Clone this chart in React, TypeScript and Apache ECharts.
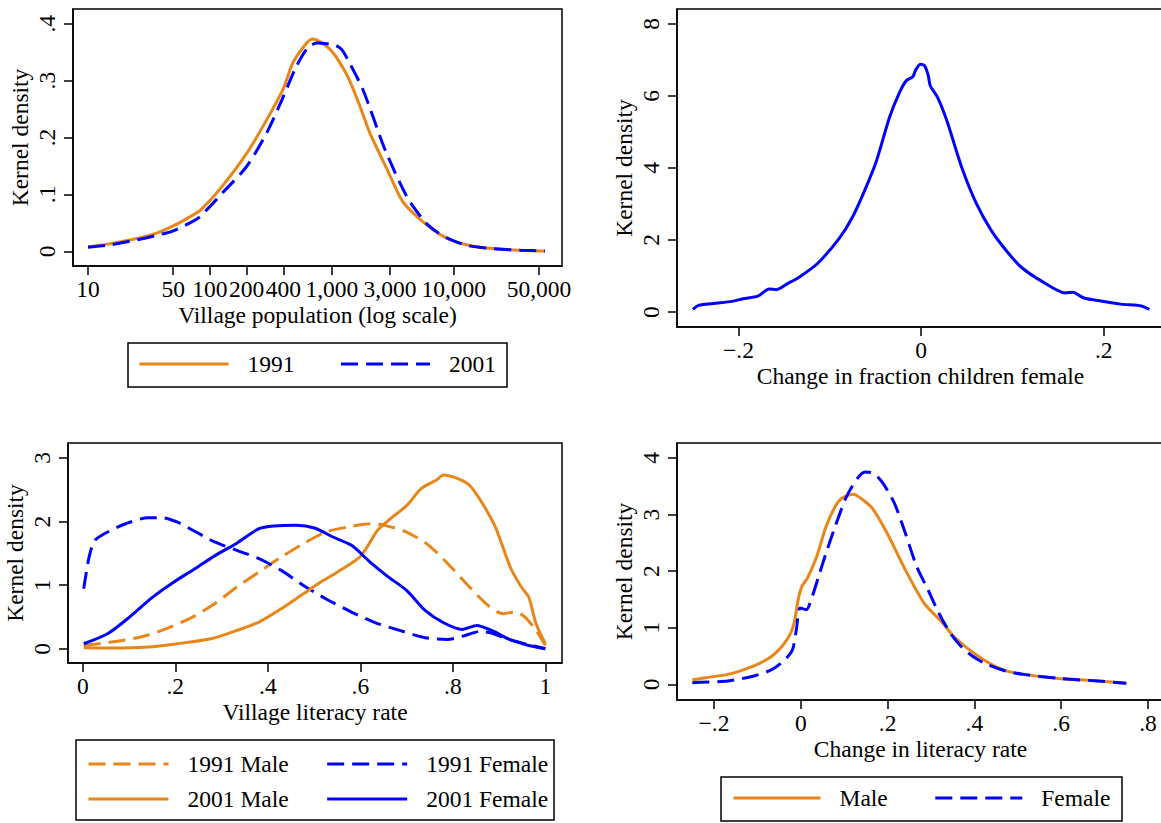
import React, { useEffect, useRef } from 'react';
import * as echarts from 'echarts';

const ORANGE = '#E8861A';
const BLUE = '#0000FF';
const FONT = '"Liberation Serif", "Times New Roman", Times, serif';
const DASH = [17, 8];

// ---------- Panel 1: village population (log scale) ----------
const popTicks = [10, 50, 100, 200, 400, 1000, 3000, 10000, 50000];
const popDensTicks = [0, 0.1, 0.2, 0.3, 0.4];
const pop1991: [number, number][] = [
  [10, 0.008], [15, 0.013], [23.5, 0.021], [36.6, 0.032], [50, 0.0445], [73, 0.064], [86, 0.0745],
  [126, 0.114], [200, 0.172], [292, 0.231], [400, 0.286], [476, 0.33], [589, 0.36], [690, 0.373],
  [832, 0.366], [1024, 0.349], [1350, 0.307], [1660, 0.261], [2050, 0.208], [2940, 0.137],
  [3630, 0.095], [4110, 0.0785], [5300, 0.056], [6800, 0.0375], [8770, 0.023], [11300, 0.014],
  [16400, 0.007], [30900, 0.0023], [56100, 0.0005],
];
const pop2001: [number, number][] = [
  [10, 0.007], [15, 0.011], [23.5, 0.0187], [36.6, 0.028], [50, 0.036], [73, 0.053], [83, 0.061],
  [106, 0.0845], [126, 0.102], [200, 0.149], [292, 0.208], [400, 0.272], [512, 0.325], [631, 0.357],
  [751, 0.366], [900, 0.365], [1028, 0.364], [1200, 0.355], [1350, 0.337], [1800, 0.284],
  [2740, 0.178], [4150, 0.095], [5900, 0.05], [7500, 0.032], [9550, 0.02], [13000, 0.01],
  [20000, 0.005], [35000, 0.002], [56000, 0.0005],
];

// ---------- Panel 2: change in fraction children female ----------
const childChangeTicks = [-0.2, 0, 0.2];
const childDensTicks = [0, 2, 4, 6, 8];
const childChange: [number, number][] = [
  [-0.25, 0.075], [-0.2437, 0.186], [-0.2274, 0.24], [-0.207, 0.296], [-0.195, 0.37], [-0.1788, 0.44],
  [-0.1666, 0.64], [-0.1585, 0.62], [-0.1463, 0.79], [-0.1341, 0.96], [-0.1138, 1.34], [-0.0895, 2.05],
  [-0.0753, 2.63], [-0.0611, 3.42], [-0.0489, 4.2], [-0.0347, 5.4], [-0.0245, 6.05], [-0.0164, 6.42],
  [-0.0091, 6.53], [-0.0063, 6.7], [-0.001, 6.88], [0.0039, 6.83], [0.0079, 6.55], [0.01, 6.28],
  [0.018, 5.96], [0.0282, 5.31], [0.0444, 4.02], [0.0607, 3.0], [0.0769, 2.26], [0.0931, 1.71],
  [0.1094, 1.25], [0.1337, 0.83], [0.158, 0.53], [0.1661, 0.55], [0.1783, 0.39], [0.1986, 0.3],
  [0.2189, 0.22], [0.2412, 0.17], [0.25, 0.07],
];

// ---------- Panel 3: village literacy rate ----------
const litTicks = [0, 0.2, 0.4, 0.6, 0.8, 1];
const litDensTicks = [0, 1, 2, 3];
const lit1991Male: [number, number][] = [
  [0.002, 0.052], [0.0615, 0.105], [0.125, 0.184], [0.181, 0.315], [0.237, 0.498], [0.285, 0.708],
  [0.333, 0.97], [0.381, 1.206], [0.429, 1.442], [0.477, 1.652], [0.525, 1.835], [0.573, 1.914],
  [0.621, 1.966], [0.653, 1.94], [0.7, 1.835], [0.748, 1.626], [0.796, 1.285], [0.836, 0.97],
  [0.876, 0.682], [0.908, 0.551], [0.936, 0.577], [0.956, 0.498], [0.98, 0.288], [1.0, 0.052],
];
const lit1991Female: [number, number][] = [
  [0.002, 0.944], [0.0136, 1.44], [0.0256, 1.7], [0.0535, 1.835], [0.093, 1.966], [0.141, 2.06],
  [0.173, 2.06], [0.205, 1.99], [0.245, 1.835], [0.285, 1.68], [0.333, 1.547], [0.381, 1.416],
  [0.429, 1.232], [0.477, 0.996], [0.525, 0.787], [0.581, 0.577], [0.629, 0.42], [0.685, 0.288],
  [0.74, 0.173], [0.788, 0.147], [0.82, 0.194], [0.86, 0.273], [0.884, 0.246], [0.916, 0.157],
  [0.956, 0.079], [1.0, 0.0],
];
const lit2001Male: [number, number][] = [
  [0.002, 0.016], [0.0615, 0.01], [0.141, 0.026], [0.205, 0.079], [0.277, 0.157], [0.333, 0.288],
  [0.381, 0.42], [0.429, 0.629], [0.477, 0.865], [0.517, 1.06], [0.549, 1.2], [0.6, 1.45],
  [0.637, 1.86], [0.661, 2.02], [0.7, 2.25], [0.732, 2.52], [0.764, 2.65], [0.78, 2.73],
  [0.812, 2.67], [0.836, 2.57], [0.86, 2.33], [0.892, 1.914], [0.924, 1.285], [0.948, 0.97],
  [0.964, 0.813], [0.98, 0.393], [1.0, 0.079],
];
const lit2001Female: [number, number][] = [
  [0.002, 0.079], [0.0535, 0.236], [0.101, 0.498], [0.149, 0.8], [0.197, 1.05], [0.245, 1.27],
  [0.285, 1.46], [0.333, 1.66], [0.381, 1.888], [0.413, 1.93], [0.461, 1.94], [0.501, 1.898],
  [0.541, 1.757], [0.581, 1.626], [0.621, 1.363], [0.661, 1.127], [0.7, 0.918], [0.74, 0.603],
  [0.78, 0.409], [0.82, 0.304], [0.852, 0.367], [0.884, 0.288], [0.924, 0.142], [0.964, 0.052],
  [1.0, 0.0],
];

// ---------- Panel 4: change in literacy rate ----------
const litChgTicks = [-0.2, 0, 0.2, 0.4, 0.6, 0.8];
const litChgDensTicks = [0, 1, 2, 3, 4];
const litChgMale: [number, number][] = [
  [-0.25, 0.076], [-0.219, 0.117], [-0.168, 0.176], [-0.134, 0.252], [-0.1, 0.352], [-0.066, 0.5],
  [-0.04, 0.704], [-0.023, 0.909], [-0.0145, 1.114], [-0.006, 1.496], [0.0026, 1.73], [0.0154, 1.877],
  [0.0367, 2.258], [0.058, 2.786], [0.079, 3.138], [0.096, 3.296], [0.122, 3.361], [0.139, 3.284],
  [0.165, 3.109], [0.199, 2.669], [0.241, 2.023], [0.284, 1.437], [0.327, 1.085], [0.352, 0.85],
  [0.403, 0.528], [0.463, 0.264], [0.514, 0.176], [0.6, 0.1], [0.685, 0.059], [0.75, 0.018],
];
const litChgFemale: [number, number][] = [
  [-0.25, 0.03], [-0.168, 0.059], [-0.108, 0.147], [-0.066, 0.264], [-0.036, 0.44], [-0.019, 0.616],
  [-0.0102, 0.968], [-0.0017, 1.349], [0.0128, 1.32], [0.0239, 1.496], [0.041, 1.906], [0.058, 2.317],
  [0.079, 2.786], [0.105, 3.314], [0.13, 3.636], [0.148, 3.754], [0.169, 3.724], [0.19, 3.548],
  [0.216, 3.196], [0.241, 2.669], [0.267, 2.082], [0.293, 1.672], [0.318, 1.261], [0.344, 0.909],
  [0.369, 0.674], [0.395, 0.499], [0.429, 0.352], [0.472, 0.235], [0.514, 0.176], [0.6, 0.1],
  [0.685, 0.059], [0.75, 0.018],
];

function stata(v: number): string {
  if (Math.abs(v) < 1e-9) return '0';
  let s = String(Math.round(v * 1000) / 1000);
  s = s.replace(/^(-?)0\./, '$1.');
  return s.replace('-', '\u2212');
}
function commas(v: number): string {
  return Math.round(v).toLocaleString('en-US');
}

const textBase = { fontFamily: FONT, fontSize: 23.5, color: '#000' };

function makeX(gridIndex: number, type: string, min: number, max: number, ticks: number[], name: string, formatter: any) {
  const ax: any = {
    type, gridIndex, min, max, name,
    nameLocation: 'middle', nameGap: 37,
    nameTextStyle: { ...textBase },
    axisLine: { show: true, onZero: false, lineStyle: { color: '#000', width: 1.5 } },
    axisTick: { show: true, customValues: ticks, length: 9, lineStyle: { color: '#000', width: 1.5 } },
    axisLabel: { customValues: ticks, formatter, margin: 11, ...textBase },
    splitLine: { show: false },
  };
  if (type === 'log') ax.logBase = 10;
  return ax;
}
function makeY(gridIndex: number, min: number, max: number, ticks: number[]) {
  return {
    type: 'value', gridIndex, min, max, name: 'Kernel density',
    nameLocation: 'middle', nameGap: 41,
    nameTextStyle: { ...textBase },
    axisLine: { show: true, onZero: false, lineStyle: { color: '#000', width: 1.5 } },
    axisTick: { show: true, customValues: ticks, length: 9, lineStyle: { color: '#000', width: 1.5 } },
    axisLabel: { customValues: ticks, formatter: stata, rotate: 90, margin: 14, ...textBase },
    splitLine: { show: false },
  };
}

function line(name: string, xi: number, data: [number, number][], color: string, dashed: boolean) {
  return {
    type: 'line', name, xAxisIndex: xi, yAxisIndex: xi, data,
    symbol: 'none', showSymbol: false, smooth: 0.25,
    lineStyle: { color, width: 3, type: dashed ? DASH : 'solid' },
    itemStyle: { color },
  };
}

function legend(names: string[], left: number, top: number, itemWidth: number, itemGap: number) {
  return {
    data: names, left, top, itemWidth, itemHeight: 24, itemGap, padding: 0,
    orient: 'horizontal', selectedMode: false,
    itemStyle: { opacity: 0, borderWidth: 0 },
    lineStyle: { width: 3 },
    textStyle: { ...textBase, padding: [0, 0, 0, 14] },
  };
}

function boxRect(x: number, y: number, w: number, h: number) {
  return { type: 'rect', silent: true, shape: { x, y, width: w, height: h }, style: { fill: 'none', stroke: '#000', lineWidth: 1.5 } };
}

export default function App() {
  const ref = useRef<HTMLDivElement>(null);
  useEffect(() => {
    if (!ref.current) return;
    const chart = echarts.init(ref.current, null, { renderer: 'svg' });
    const gridBase = { show: true, borderColor: '#000', borderWidth: 1.5, backgroundColor: '#fff', containLabel: false, outerBoundsMode: 'none' };
    const option: any = {
      animation: false,
      backgroundColor: '#fff',
      grid: [
        { ...gridBase, left: 73, top: 9, width: 489, height: 257 },
        { ...gridBase, left: 677, top: 9, width: 487, height: 318 },
        { ...gridBase, left: 68, top: 443, width: 494, height: 220 },
        { ...gridBase, left: 677, top: 443, width: 487, height: 257 },
      ],
      xAxis: [
        makeX(0, 'log', 7.53, 77270, popTicks, 'Village population (log scale)', commas),
        makeX(1, 'value', -0.2674, 0.266, childChangeTicks, 'Change in fraction children female', stata),
        makeX(2, 'value', -0.032, 1.036, litTicks, 'Village literacy rate', stata),
        makeX(3, 'value', -0.2853, 0.837, litChgTicks, 'Change in literacy rate', stata),
      ],
      yAxis: [
        makeY(0, -0.0259, 0.4259, popDensTicks),
        makeY(1, -0.415, 8.41, childDensTicks),
        makeY(2, -0.224, 3.235, litDensTicks),
        makeY(3, -0.277, 4.265, litChgDensTicks),
      ],
      legend: [
        legend(['1991', '2001'], 138, 352, 89, 45),
        legend(['1991 Male', '1991 Female'], 87, 752, 80, 37),
        legend(['2001 Male', '2001 Female'], 87, 787, 80, 37),
        legend(['Male', 'Female'], 732, 786, 87, 46),
      ],
      graphic: [
        boxRect(128, 343, 379, 44),
        boxRect(76, 740, 478, 80),
        boxRect(721, 777, 401, 44),
      ],
      series: [
        line('1991', 0, pop1991, ORANGE, false),
        line('2001', 0, pop2001, BLUE, true),
        line('Children', 1, childChange, BLUE, false),
        line('1991 Male', 2, lit1991Male, ORANGE, true),
        line('1991 Female', 2, lit1991Female, BLUE, true),
        line('2001 Male', 2, lit2001Male, ORANGE, false),
        line('2001 Female', 2, lit2001Female, BLUE, false),
        line('Male', 3, litChgMale, ORANGE, false),
        line('Female', 3, litChgFemale, BLUE, true),
      ],
    };
    chart.setOption(option);
    return () => chart.dispose();
  }, []);
  return (
    <div
      ref={ref}
      style={{ position: 'absolute', left: 0, top: 0, width: 1161, height: 823, background: '#fff', overflow: 'hidden' }}
    />
  );
}
